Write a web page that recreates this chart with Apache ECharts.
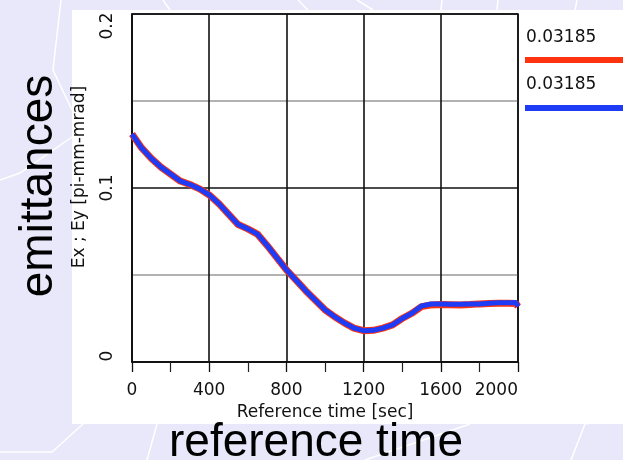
<!DOCTYPE html>
<html><head><meta charset="utf-8">
<script src="https://cdn.jsdelivr.net/npm/echarts@6/dist/echarts.min.js"></script>
<style>html,body{margin:0;padding:0;background:#e8e8fa;}#c{width:623px;height:460px;}</style>
</head><body><div id="c"></div>
<script>
// Reference time [sec]
const times = [0,50,100,150,200,250,300,350,400,450,500,550,600,650,700,750,800,850,900,950,1000,1050,1100,1150,1200,1250,1300,1350,1400,1450,1500,1550,1600,1650,1700,1750,1800,1850,1900,1950,1990,2000];
// Ex [pi-mm-mrad]
const ex = [0.131,0.123,0.117,0.112,0.108,0.104,0.102,0.0995,0.096,0.091,0.085,0.079,0.0765,0.0735,0.067,0.060,0.053,0.047,0.041,0.0355,0.030,0.026,0.0225,0.0195,0.018,0.0182,0.0195,0.0213,0.025,0.028,0.0318,0.0328,0.0330,0.0329,0.0327,0.0330,0.0334,0.0336,0.0338,0.0337,0.0336,0.0319];
// Ey [pi-mm-mrad]
const ey = [0.131,0.123,0.117,0.112,0.108,0.104,0.102,0.0995,0.096,0.091,0.085,0.079,0.0765,0.0735,0.067,0.060,0.053,0.047,0.041,0.0355,0.030,0.026,0.0225,0.0195,0.018,0.0182,0.0195,0.0213,0.025,0.028,0.0322,0.0333,0.0333,0.0332,0.0332,0.0333,0.0334,0.0337,0.0340,0.0341,0.0342,0.0319];
const legendValues = ['0.03185','0.03185'];
const xTicks = [0,400,800,1200,1600,2000];
const yTicks = [0,0.1,0.2];

const seriesColors = ['#ff3210','#1e3cf5'];
const chart = echarts.init(document.getElementById('c'));
const pairs = a => times.map((t,i)=>[t,a[i]]);
const white = '#ffffff';
const bgLines = [
  [[61,0],[53,70],[72,110]],
  [[0,180],[20,173],[72,137]],
  [[163,0],[170,10]],[[298,0],[308,10]],[[357,0],[373,10]],[[442,0],[441,10]],[[498,0],[497,10]],[[577,0],[575,10]],
  [[0,452],[52,452],[83,424]],[[147,460],[157,424]],[[365,460],[470,424]],[[571,460],[585,424],[623,418]]
];
chart.setOption({
  animation:false,
  backgroundColor:'#e8e8fa',
  textStyle:{fontFamily:'DejaVu Sans'},
  grid:{left:132,top:14,right:105,bottom:98,show:false},
  xAxis:{type:'value',min:0,max:2000,interval:400,
    name:'Reference time [sec]',nameLocation:'middle',nameGap:39,
    nameTextStyle:{color:'#111',fontSize:17,fontFamily:'DejaVu Sans'},
    axisLine:{show:true,lineStyle:{color:'#111',width:1.5}},
    axisTick:{show:true,length:10,lineStyle:{color:'#111',width:1.3}},
    minorTick:{show:true,splitNumber:2,length:10,lineStyle:{color:'#222',width:1.2}},
    axisLabel:{margin:20,fontSize:17,color:'#111',alignMaxLabel:'right',
      formatter:v=>xTicks.includes(v)?String(v):''},
    splitLine:{show:true,lineStyle:{color:'#111',width:1.6}}
  },
  yAxis:{type:'value',min:0,max:0.2,interval:0.05,
    name:'Ex ; Ey [pi-mm-mrad]',nameLocation:'middle',nameGap:44,nameRotate:90,
    nameTextStyle:{color:'#111',fontSize:17,fontFamily:'DejaVu Sans',padding:[0,0,0,22]},
    axisLine:{show:true,lineStyle:{color:'#111',width:1.5}},
    axisTick:{show:false},
    axisLabel:{rotate:90,margin:16,fontSize:17,color:'#111',
      formatter:v=>{
        const k = yTicks.find(t=>Math.abs(t-v)<1e-9);
        if(k===undefined) return '';
        if(k===0) return '{a|0}';
        if(k===0.2) return '{b|0.2}';
        return String(k);
      },
      rich:{a:{fontSize:17,color:'#111',padding:[0,0,0,12]},b:{fontSize:17,color:'#111',padding:[0,24,0,0]}}
    },
    splitLine:{show:true,lineStyle:{color:['#111','#999'],width:1.6}}
  },
  series:[
    {name:'Ex',type:'line',data:pairs(ex),showSymbol:false,lineStyle:{color:seriesColors[0],width:7},z:3},
    {name:'Ey',type:'line',data:pairs(ey),showSymbol:false,lineStyle:{color:seriesColors[1],width:5},z:4}
  ],
  graphic:[
    ...bgLines.map(p=>({type:'polyline',z:-10,shape:{points:p},style:{stroke:white,lineWidth:1.5,fill:null},silent:true})),
    {type:'rect',z:-5,shape:{x:72,y:10,width:551,height:414},style:{fill:white},silent:true},
    {type:'rect',z:-4,shape:{x:132,y:14,width:386,height:348},style:{fill:white,stroke:'#111',lineWidth:1.5},silent:true},
    {type:'text',z:10,x:526,y:38,style:{text:legendValues[0],fill:'#111',font:'17px "DejaVu Sans"',verticalAlign:'middle'}},
    {type:'rect',z:10,shape:{x:525,y:57,width:98,height:6},style:{fill:seriesColors[0]}},
    {type:'text',z:10,x:526,y:85,style:{text:legendValues[1],fill:'#111',font:'17px "DejaVu Sans"',verticalAlign:'middle'}},
    {type:'rect',z:10,shape:{x:525,y:105,width:98,height:6},style:{fill:seriesColors[1]}},
    {type:'text',z:10,x:39,y:186,rotation:Math.PI/2,style:{text:'emittances',fill:'#000',font:'46px "Liberation Sans"',align:'center',verticalAlign:'middle'}},
    {type:'text',z:10,x:316,y:443,style:{text:'reference time',fill:'#000',font:'46px "Liberation Sans"',align:'center',verticalAlign:'middle'}}
  ]
});
</script></body></html>
